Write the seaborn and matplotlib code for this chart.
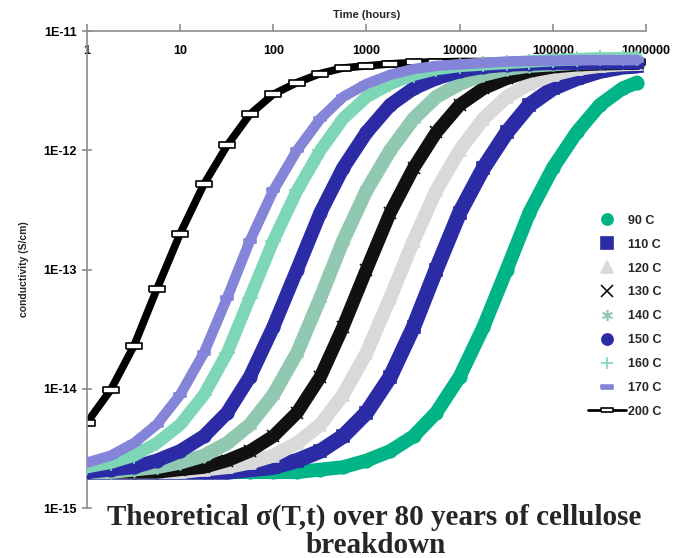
import matplotlib
matplotlib.use("Agg")
import matplotlib.pyplot as plt
from matplotlib.lines import Line2D
from matplotlib.ticker import FixedLocator, FuncFormatter, NullLocator
import numpy as np
import pandas as pd
import seaborn as sns

# tempo (horas) em que cada curva foi lida
hours = [1, 1.8, 3.2, 5.6, 10, 18, 32, 56, 100, 180, 320, 560, 1000, 1800,
         3200, 5600, 10000, 18000, 32000, 56000, 100000, 180000, 320000,
         560000, 800000]

# condutividade (S/cm), uma lista por temperatura
sigma_90 = [2.0e-15, 2.0e-15, 2.0e-15, 2.0e-15, 2.0e-15, 2.0e-15, 2.0e-15, 2.0e-15,
            2.0e-15, 2.0e-15, 2.1e-15, 2.2e-15, 2.5e-15, 3.0e-15, 4.0e-15, 6.3e-15,
            1.26e-14, 3.3e-14, 1.0e-13, 3.0e-13, 7.1e-13, 1.41e-12, 2.4e-12, 3.3e-12,
            3.7e-12]
sigma_110 = [2.0e-15, 2.0e-15, 2.0e-15, 2.0e-15, 2.0e-15, 2.0e-15, 2.0e-15, 2.1e-15,
             2.2e-15, 2.5e-15, 3.0e-15, 4.0e-15, 6.3e-15, 1.26e-14, 3.3e-14, 1.0e-13,
             3.0e-13, 7.1e-13, 1.41e-12, 2.4e-12, 3.3e-12, 4.0e-12, 4.6e-12, 5.0e-12,
             5.1e-12]
sigma_120 = [2.0e-15, 2.0e-15, 2.0e-15, 2.0e-15, 2.0e-15, 2.1e-15, 2.2e-15, 2.4e-15,
             2.75e-15, 3.5e-15, 5.0e-15, 8.9e-15, 2.0e-14, 5.8e-14, 1.74e-13, 4.6e-13,
             1.0e-12, 1.84e-12, 2.8e-12, 3.6e-12, 4.3e-12, 4.8e-12, 5.1e-12, 5.25e-12,
             5.3e-12]
sigma_130 = [2.0e-15, 2.0e-15, 2.0e-15, 2.0e-15, 2.1e-15, 2.2e-15, 2.5e-15, 3.0e-15,
             4.0e-15, 6.3e-15, 1.26e-14, 3.3e-14, 1.0e-13, 3.0e-13, 7.1e-13, 1.41e-12,
             2.4e-12, 3.3e-12, 4.0e-12, 4.6e-12, 5.0e-12, 5.2e-12, 5.3e-12, 5.35e-12,
             5.35e-12]
sigma_140 = [2.0e-15, 2.0e-15, 2.1e-15, 2.2e-15, 2.4e-15, 2.75e-15, 3.5e-15, 5.0e-15,
             8.9e-15, 2.0e-14, 5.8e-14, 1.74e-13, 4.6e-13, 1.0e-12, 1.84e-12, 2.8e-12,
             3.6e-12, 4.3e-12, 4.8e-12, 5.1e-12, 5.25e-12, 5.4e-12, 5.5e-12, 5.55e-12,
             5.6e-12]
sigma_150 = [2.0e-15, 2.1e-15, 2.2e-15, 2.5e-15, 3.0e-15, 4.0e-15, 6.3e-15, 1.26e-14,
             3.3e-14, 1.0e-13, 3.0e-13, 7.1e-13, 1.41e-12, 2.4e-12, 3.3e-12, 4.0e-12,
             4.6e-12, 5.0e-12, 5.2e-12, 5.3e-12, 5.4e-12, 5.4e-12, 5.45e-12, 5.45e-12,
             5.45e-12]
sigma_160 = [2.2e-15, 2.4e-15, 2.75e-15, 3.5e-15, 5.0e-15, 8.9e-15, 2.0e-14, 5.8e-14,
             1.74e-13, 4.6e-13, 1.0e-12, 1.84e-12, 2.8e-12, 3.6e-12, 4.3e-12, 4.8e-12,
             5.1e-12, 5.25e-12, 5.4e-12, 5.55e-12, 5.7e-12, 5.8e-12, 5.9e-12, 5.9e-12,
             5.9e-12]
sigma_170 = [2.4e-15, 2.75e-15, 3.5e-15, 5.0e-15, 8.9e-15, 2.0e-14, 5.8e-14, 1.74e-13,
             4.6e-13, 1.0e-12, 1.84e-12, 2.8e-12, 3.6e-12, 4.3e-12, 4.8e-12, 5.1e-12,
             5.25e-12, 5.4e-12, 5.55e-12, 5.6e-12, 5.65e-12, 5.7e-12, 5.7e-12, 5.7e-12,
             5.7e-12]
sigma_200 = [5.2e-15, 9.8e-15, 2.3e-14, 6.8e-14, 2.0e-13, 5.2e-13, 1.1e-12, 2.0e-12,
             2.95e-12, 3.7e-12, 4.4e-12, 4.9e-12, 5.1e-12, 5.3e-12, 5.45e-12, 5.5e-12,
             5.55e-12, 5.55e-12, 5.55e-12, 5.55e-12, 5.55e-12, 5.55e-12, 5.55e-12,
             5.55e-12, 5.55e-12]

series_labels = ["90 C", "110 C", "120 C", "130 C", "140 C", "150 C", "160 C", "170 C", "200 C"]
series_values = [sigma_90, sigma_110, sigma_120, sigma_130, sigma_140,
                 sigma_150, sigma_160, sigma_170, sigma_200]

x_ticks = [1, 10, 100, 1000, 10000, 100000, 1000000]
y_ticks = [1e-15, 1e-14, 1e-13, 1e-12, 1e-11]

# marcador "traco" (retangulo achatado)
dash = [(-1, -0.35), (1, -0.35), (1, 0.35), (-1, 0.35), (-1, -0.35)]

estilos = {
    "90 C":  dict(color="#00b488", marker="o", ms=9, lw=10, mfc="#00b488", mec="#00b488", z=3),
    "110 C": dict(color="#2b2ba6", marker="s", ms=9, lw=11, mfc="#2b2ba6", mec="#2b2ba6", z=4),
    "120 C": dict(color="#d9d9d9", marker="^", ms=9, lw=10, mfc="#d9d9d9", mec="#d9d9d9", z=5),
    "130 C": dict(color="#111111", marker="x", ms=9, lw=9.5, mfc="#111111", mec="#111111", z=6),
    "140 C": dict(color="#90c8b2", marker=(6, 2, 0), ms=10, lw=10, mfc="#90c8b2", mec="#90c8b2", z=7),
    "150 C": dict(color="#2b2ba6", marker="o", ms=9, lw=10, mfc="#2b2ba6", mec="#2b2ba6", z=8),
    "160 C": dict(color="#7dd6b6", marker="+", ms=11, lw=9, mfc="#7dd6b6", mec="#7dd6b6", z=9),
    "170 C": dict(color="#8484d8", marker=dash, ms=9, lw=7.5, mfc="#8484d8", mec="#8484d8", z=10),
    "200 C": dict(color="#000000", marker=dash, ms=11, lw=5.5, mfc="white", mec="black", z=2),
}

sns.set_theme(style="white")
plt.rcParams["font.family"] = ["Liberation Sans", "DejaVu Sans"]

df = pd.concat(
    [pd.DataFrame({"hours": hours, "sigma": v, "serie": lab})
     for lab, v in zip(series_labels, series_values)],
    ignore_index=True,
)

fig = plt.figure(figsize=(6.79, 5.58), dpi=100)
ax = fig.add_axes([0.1281, 0.0896, 0.8233, 0.8548])

for lab in series_labels:
    st = estilos[lab]
    sns.lineplot(data=df[df["serie"] == lab], x="hours", y="sigma", ax=ax,
                 estimator=None, sort=False, legend=False,
                 color=st["color"], linewidth=st["lw"], marker=st["marker"],
                 markersize=st["ms"], markerfacecolor=st["mfc"],
                 markeredgecolor=st["mec"], markeredgewidth=1.2, zorder=st["z"])

ax.set_xscale("log")
ax.set_yscale("log")
ax.set_xlim(1, 1e6)
ax.set_ylim(1e-15, 1e-11)

ax.xaxis.set_major_locator(FixedLocator(x_ticks))
ax.xaxis.set_minor_locator(NullLocator())
ax.yaxis.set_major_locator(FixedLocator(y_ticks))
ax.yaxis.set_minor_locator(NullLocator())
ax.xaxis.set_major_formatter(FuncFormatter(lambda v, p: f"{int(round(v))}"))
ax.yaxis.set_major_formatter(FuncFormatter(lambda v, p: f"1E{int(round(np.log10(v)))}"))

for s in ["right", "bottom"]:
    ax.spines[s].set_visible(False)
for s in ["left", "top"]:
    ax.spines[s].set_color("#8c8c8c")
    ax.spines[s].set_linewidth(1.2)

ax.tick_params(axis="x", which="major", bottom=False, top=True, labelbottom=False,
               labeltop=True, direction="out", length=5, width=1.2, color="#8c8c8c",
               pad=-24, labelsize=9)
ax.tick_params(axis="y", which="major", left=True, direction="inout", length=7,
               width=1.2, color="#8c8c8c", pad=4, labelsize=9)
for t in ax.get_xticklabels() + ax.get_yticklabels():
    t.set_fontweight("bold")
    t.set_color("black")

ax.set_xlabel("")
ax.set_ylabel("conductivity (S/cm)", fontsize=7.5, fontweight="bold", labelpad=10)
ax.text(0.5, 1.033, "Time (hours)", transform=ax.transAxes, ha="center",
        va="center", fontsize=8, fontweight="bold")
ax.grid(False)

handles = []
for lab in series_labels:
    st = estilos[lab]
    handles.append(Line2D([], [], color=st["color"], lw=2.0 if lab == "200 C" else 0,
                          linestyle="-" if lab == "200 C" else "none",
                          marker=st["marker"], markersize=8,
                          markerfacecolor=st["mfc"], markeredgecolor=st["mec"],
                          markeredgewidth=1.2))
leg = fig.legend(handles, series_labels, loc="upper left",
                 bbox_to_anchor=(0.866, 0.615), frameon=False, handlelength=3.0,
                 handletextpad=0.2, labelspacing=0.95, borderpad=0, borderaxespad=0,
                 prop={"weight": "bold", "size": 9})

titulo_font = dict(family=["Liberation Serif", "DejaVu Serif"], fontweight="bold",
                   fontsize=21, ha="center", va="center")
fig.text(0.551, 0.072, "Theoretical σ(T,t) over 80 years of cellulose", **titulo_font)
fig.text(0.553, 0.022, "breakdown", **titulo_font)

fig.savefig("out.png", dpi=100)
